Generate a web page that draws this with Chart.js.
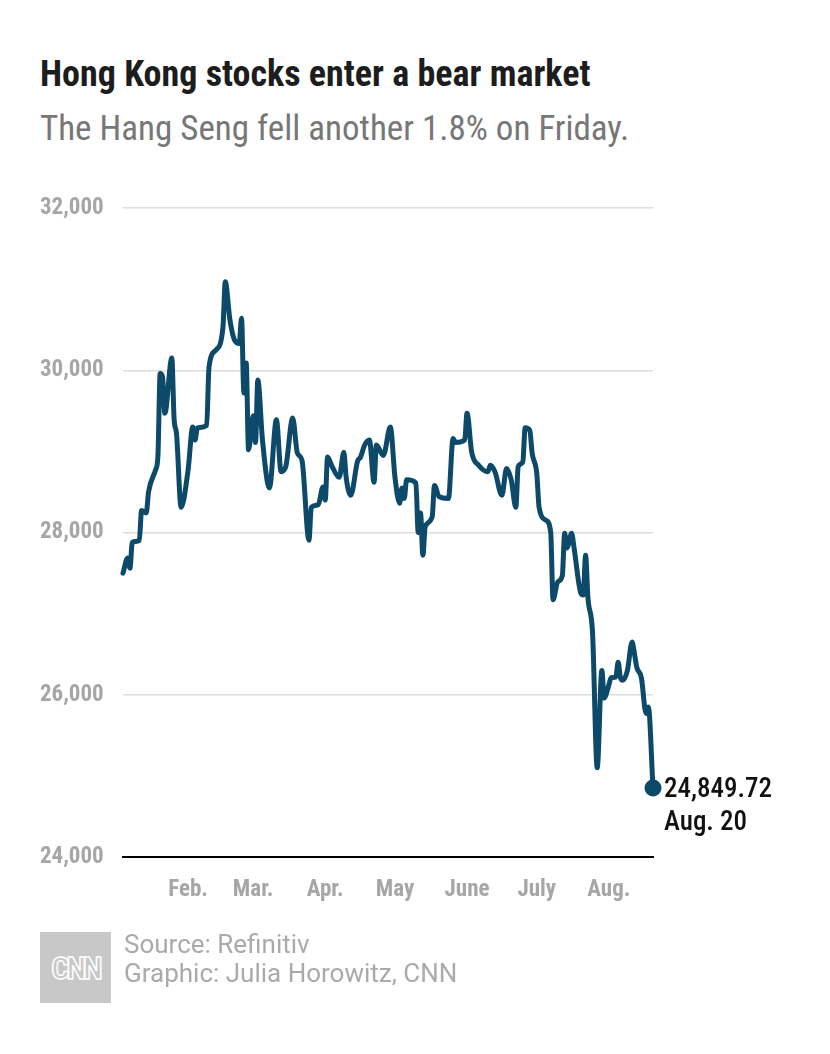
<!DOCTYPE html>
<html>
<head>
<meta charset="utf-8">
<script src="https://cdn.jsdelivr.net/npm/chart.js@4.4.1/dist/chart.umd.min.js"></script>
<style>
  html, body { margin: 0; padding: 0; background: #fff; }
  body { width: 830px; height: 1054px; position: relative; overflow: hidden; }
  .cond { font-family: 'Roboto Condensed', 'DejaVu Sans Condensed', sans-serif; }
  #title { position: absolute; left: 40px; top: 53px; font-size: 36px; font-weight: bold; color: #1d1d1d; white-space: nowrap; }
  #subtitle { position: absolute; left: 40px; top: 108px; font-size: 35px; color: #777; white-space: nowrap; }
  #chart-box { position: absolute; left: 0; top: 180px; width: 830px; height: 750px; }
  #logo { position: absolute; left: 40px; top: 932px; width: 71px; height: 71px; background: #c8c8c8;
          color: #c8c8c8; font: bold 32px 'Roboto Condensed', sans-serif;
          display: flex; align-items: center; justify-content: center; letter-spacing: -3px;
          -webkit-text-stroke: 1.5px #fff; }
  .foot { position: absolute; left: 124px; font-family: Roboto, 'Liberation Sans', sans-serif; font-size: 26px; color: #aaa; white-space: nowrap; }
</style>
</head>
<body>
<div id="title" class="cond">Hong Kong stocks enter a bear market</div>
<div id="subtitle" class="cond">The Hang Seng fell another 1.8% on Friday.</div>
<div id="chart-box"><canvas id="hsi-chart"></canvas></div>
<div id="logo">CNN</div>
<div class="foot" style="top:929px">Source: Refinitiv</div>
<div class="foot" style="top:958px">Graphic: Julia Horowitz, CNN</div>
<script>
// day of year (2021) and Hang Seng close
const days = [4, 6, 7, 8, 11, 12, 14, 15, 18, 19, 20, 21, 22, 25, 26, 27, 29,
  32, 34, 35, 36, 40, 41, 44, 47, 48, 50, 52, 54, 55, 56, 57, 58, 60, 61, 62, 64,
  67, 70, 72, 74, 77, 79, 81, 84, 85, 88, 90, 91, 92, 94, 97, 99, 100, 102, 105, 106,
  108, 110, 112, 113, 116, 119, 121, 123, 124, 125, 126, 130, 131, 132, 133, 134,
  137, 138, 140, 144, 146, 147, 151, 152, 154, 157, 161, 162, 164, 167, 169, 171,
  173, 174, 176, 177, 179, 180, 182, 183, 186, 188, 189, 191, 193, 194, 195, 197,
  198, 201, 202, 203, 204, 206, 208, 210, 211, 213, 214, 216, 217, 218, 219, 221,
  223, 224, 225, 227, 229, 230, 232];
const closes = [27500, 27685, 27560, 27880, 27900, 28270, 28240, 28500, 28770, 28930, 29960, 29920, 29470, 30150, 29390, 29225, 28310,
  28770, 29300, 29140, 29290, 29320, 30040, 30250, 30530, 31090, 30620, 30370, 30330, 30640, 29720, 30090, 29020, 29440, 29110, 29880, 29140,
  28550, 29390, 28750, 28810, 29410, 28980, 28890, 27905, 28310, 28340, 28560, 28400, 28930, 28810, 28680, 28990, 28680, 28460, 28890, 28920,
  29080, 29140, 28620, 29080, 28950, 29300, 28680, 28360, 28550, 28420, 28650, 28610, 28000, 28240, 27720, 28070,
  28190, 28580, 28440, 28420, 29160, 29110, 29140, 29470, 28990, 28830, 28750, 28830, 28750, 28460, 28790, 28650,
  28310, 28810, 28870, 29290, 29260, 28980, 28730, 28310, 28150, 28000, 27170, 27390, 27470, 27990, 27810, 27990,
  27820, 27250, 27230, 27720, 27200, 26760, 25100, 26300, 25960, 26120, 26210, 26220, 26400, 26210, 26180, 26300,
  26650, 26510, 26340, 26210, 25770, 25850, 24849.72];

const monthDays = [32, 60, 91, 121, 152, 182, 213];
const monthLabels = ['Feb.', 'Mar.', 'Apr.', 'May', 'June', 'July', 'Aug.'];
const yTicks = [24000, 26000, 28000, 30000, 32000];
const lastLabel = 'Aug. 20';

const condFont = "'Roboto Condensed', 'DejaVu Sans Condensed', sans-serif";
const lineColor = '#0d4a69';

// label next to the last point
const endLabel = {
    id: 'endLabel',
    afterDatasetsDraw(chart) {
        const meta = chart.getDatasetMeta(0);
        const pt = meta.data[meta.data.length - 1];
        const ctx = chart.ctx;
        ctx.save();
        ctx.fillStyle = '#111';
        ctx.font = '500 27px ' + condFont;
        ctx.textBaseline = 'middle';
        ctx.textAlign = 'left';
        const v = closes[closes.length - 1];
        ctx.fillText(v.toLocaleString('en-US', { minimumFractionDigits: 2 }), pt.x + 11, pt.y + 2);
        ctx.fillText(lastLabel, pt.x + 11, pt.y + 35);
        ctx.restore();
    }
};

const ctx = document.getElementById('hsi-chart').getContext('2d');
new Chart(ctx, {
    type: 'line',
    data: {
        datasets: [{
            data: days.map((d, i) => ({ x: d, y: closes[i] })),
            borderColor: lineColor,
            backgroundColor: lineColor,
            borderWidth: 5,
            borderJoinStyle: 'round',
            borderCapStyle: 'round',
            cubicInterpolationMode: 'monotone',
            pointRadius: (c) => c.dataIndex === closes.length - 1 ? 6 : 0,
            pointHoverRadius: 0,
            clip: false
        }]
    },
    options: {
        animation: false,
        responsive: true,
        maintainAspectRatio: false,
        layout: { padding: { left: 40, right: 177, top: 28, bottom: 0 } },
        plugins: { legend: { display: false }, tooltip: { enabled: false } },
        scales: {
            x: {
                type: 'linear',
                min: 4,
                max: 232,
                afterBuildTicks: (scale) => { scale.ticks = monthDays.map(v => ({ value: v })); },
                afterFit: (scale) => { scale.height = 73; },
                grid: { display: false, drawTicks: false },
                border: { display: true, color: '#000', width: 2 },
                ticks: {
                    autoSkip: false,
                    maxRotation: 0,
                    padding: 19,
                    color: '#a6a6a6',
                    font: { family: condFont, size: 23, weight: 'bold' },
                    callback: (v) => monthLabels[monthDays.indexOf(v)]
                }
            },
            y: {
                min: 24000,
                max: 32000,
                afterBuildTicks: (scale) => { scale.ticks = yTicks.map(v => ({ value: v })); },
                afterFit: (scale) => { scale.width = 83; },
                grid: { color: '#dddddd', lineWidth: 1.5, drawTicks: false },
                border: { display: false },
                ticks: {
                    crossAlign: 'far',
                    color: '#a6a6a6',
                    font: { family: condFont, size: 23, weight: 'bold' },
                    callback: (v) => v.toLocaleString('en-US')
                }
            }
        }
    },
    plugins: [endLabel]
});
</script>
</body>
</html>
